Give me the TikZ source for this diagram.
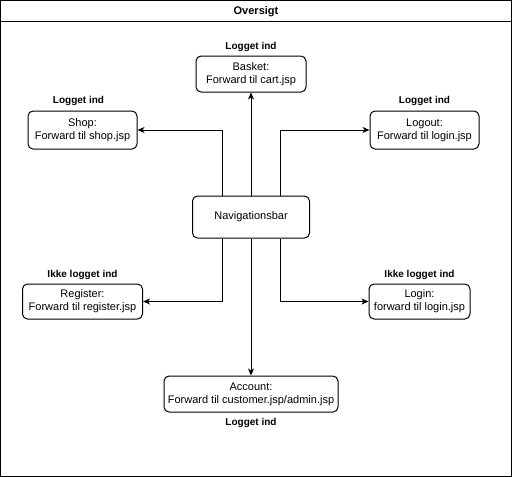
\documentclass[tikz,border=0pt]{standalone}
\usepackage{fontspec}
\setmainfont{Liberation Sans}
\usetikzlibrary{arrows.meta,positioning}

\begin{document}
\begin{tikzpicture}[x=1pt, y=-1pt, line width=1pt]
  \tikzstyle{page}=[rectangle, draw, rounded corners=5pt, align=center, inner sep=2pt, font=\fontsize{11}{13}\selectfont]
  \tikzstyle{lab}=[font=\fontsize{10}{12}\selectfont\bfseries, inner sep=2pt]
  \tikzstyle{heading}=[font=\fontsize{11}{13}\selectfont\bfseries, inner sep=2pt]
  \tikzstyle{arr}=[-{Stealth[length=7pt, width=6pt, inset=2pt]}]
  \useasboundingbox (0,0) rectangle (512,477);

  % Ramme
  \draw (0.5,0.5) rectangle (511,476);
  \draw (0.5,21.5) -- (511,21.5);
  \node[heading] (title) at (256,11.5) {Oversigt};

  % Navigationsbar
  \node[page, minimum width=117pt, minimum height=42pt] (nav) at (251,217) {Navigationsbar};

  % Sider
  \node[page, minimum width=110pt, minimum height=36pt] (basket) at (251,74) {Basket:\\Forward til cart.jsp};
  \node[page, minimum width=109pt, minimum height=38pt] (shop) at (82.5,130) {Shop:\\Forward til shop.jsp};
  \node[page, minimum width=109pt, minimum height=38pt] (logout) at (424.5,130) {Logout:\\Forward til login.jsp};
  \node[page, minimum width=120pt, minimum height=35pt] (register) at (82.5,301.5) {Register:\\Forward til register.jsp};
  \node[page, minimum width=101pt, minimum height=35pt] (login) at (419.5,301.5) {Login:\\forward til login.jsp};
  \node[page, minimum width=174pt, minimum height=36pt] (account) at (251,394) {Account:\\Forward til customer.jsp/admin.jsp};

  % Adgang
  \node[lab, above=1.5pt of basket] (basketlab) {Logget ind};
  \node[lab, above=2.5pt of shop, xshift=-4pt] (shoplab) {Logget ind};
  \node[lab, above=2.5pt of logout] (logoutlab) {Logget ind};
  \node[lab, above=1pt of register] (registerlab) {Ikke logget ind};
  \node[lab, above=1pt of login] (loginlab) {Ikke logget ind};
  \node[lab, below=3pt of account] (accountlab) {Logget ind};

  % Forbindelser
  \draw[arr] (nav) -- (basket);
  \draw[arr] ([xshift=-29pt]nav.north) |- (shop);
  \draw[arr] ([xshift=29pt]nav.north) |- (logout);
  \draw[arr] ([xshift=-29pt]nav.south) |- (register);
  \draw[arr] ([xshift=29pt]nav.south) |- (login);
  \draw[arr] (nav) -- (account);
\end{tikzpicture}
\end{document}
